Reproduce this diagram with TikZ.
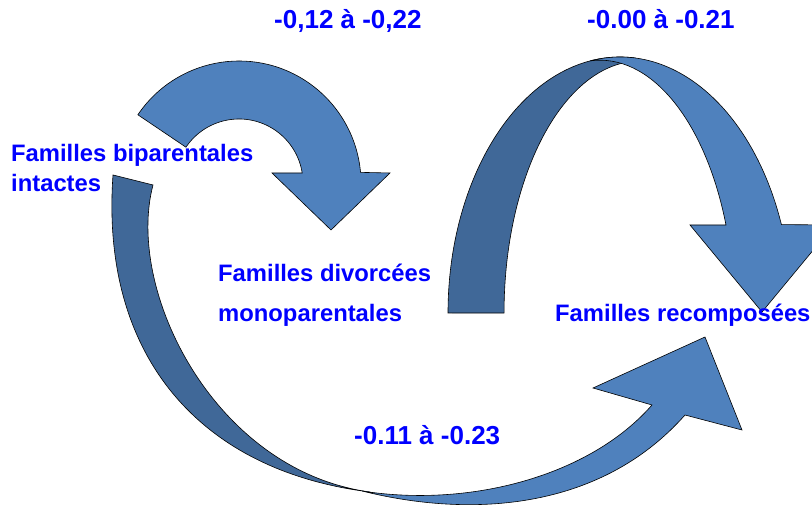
\documentclass[tikz,border=0pt]{standalone}
\usepackage{fontspec}
\setmainfont{Liberation Sans}
\usetikzlibrary{positioning}

\definecolor{arrowlight}{RGB}{79,129,189}
\definecolor{arrowdark}{RGB}{64,104,152}
\definecolor{labelblue}{RGB}{0,0,255}

\begin{document}
\begin{tikzpicture}[
  x=1pt,y=1pt,
  lightarrow/.style={fill=arrowlight,draw=black,line width=0.6pt,line join=miter},
  darkarrow/.style={fill=arrowdark,draw=black,line width=0.6pt},
  famlabel/.style={text=labelblue,font=\fontsize{23.8}{30}\selectfont\bfseries,inner sep=0pt,align=left,anchor=base west},
  rangelabel/.style={text=labelblue,font=\fontsize{26}{30}\selectfont\bfseries,inner sep=0pt,anchor=base west}
]
\useasboundingbox (0,0) rectangle (812,506);

% Centres of the curved arrows
\coordinate (c1) at (239,323);
\coordinate (c2) at (620,193);

% Arrow biparentales -> divorcees (top left)
\filldraw[lightarrow] ([shift={(146:122pt)}]c1) arc[start angle=146,end angle=5,radius=122pt]
  -- (390,333) -- (331,276) -- (272,333)
  -- ([shift={(9:64pt)}]c1) arc[start angle=9,end angle=146,radius=64pt] -- cycle;

% Arrow divorcees -> recomposees (top right arch)
\filldraw[darkarrow] (448,193) arc[start angle=180,end angle=85,x radius=172pt,y radius=256pt]
  -- (635.3,444.8) arc[start angle=92,end angle=180,x radius=136pt,y radius=252pt] -- cycle;
\filldraw[lightarrow] ([shift={(100:172pt and 256pt)}]c2) arc[start angle=100,end angle=20.2,x radius=172pt,y radius=256pt]
  -- (834,281) -- (762,194) -- (690,281) -- (726,281)
  arc[start angle=20.4,end angle=94.3,x radius=134.4pt,y radius=253pt] -- cycle;

% Arrow biparentales -> recomposees (bottom)
\filldraw[darkarrow] (113,331) .. controls (100,150) and (200,35) .. (370,14)
  .. controls (215,35) and (125,215) .. (153,321) -- cycle;
\filldraw[lightarrow] (362,15) .. controls (470,-12) and (600,-5) .. (685,91)
  -- (742,76) -- (705,169) -- (593,118) -- (652,101)
  .. controls (590,30) and (470,-2) .. (362,15) -- cycle;

% Labels
\node[famlabel] (bip) at (11,314) {Familles biparentales\\intactes};
\node[famlabel,font=\fontsize{23.8}{40}\selectfont\bfseries] (div) at (218,184) {Familles divorcées\\monoparentales};
\node[famlabel] (rec) at (555,184) {Familles recomposées};
\node[rangelabel] (r1) at (274,477) {-0,12 à -0,22};
\node[rangelabel] (r2) at (587,477) {-0.00 à -0.21};
\node[rangelabel] (r3) at (354,61) {-0.11 à -0.23};

\end{tikzpicture}
\end{document}
